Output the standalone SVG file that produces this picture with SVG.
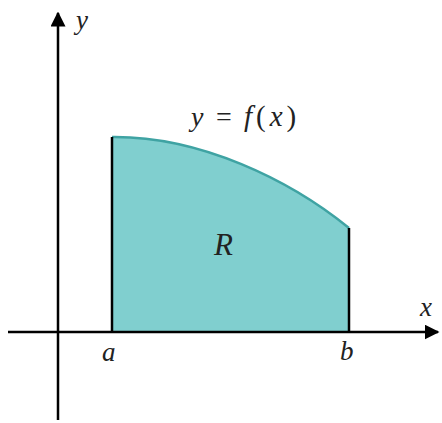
<svg xmlns="http://www.w3.org/2000/svg" width="442" height="423" viewBox="0 0 442 423">
<defs>
<style>
.ax{stroke:#000;stroke-width:2.5;fill:none}
.lbl{font-family:"Liberation Serif","Times New Roman",serif;font-style:italic;fill:#222}
.up{font-family:"Liberation Serif","Times New Roman",serif;fill:#222}
</style>
<marker id="ah" viewBox="0 0 10 10" refX="9" refY="5" markerWidth="6" markerHeight="6" markerUnits="strokeWidth" orient="auto">
<path d="M0,0 L10,5 L0,10 z" fill="#000"/>
</marker>
</defs>
<rect width="442" height="423" fill="#fff"/>
<g id="region">
<path d="M112,332 L112,137 C200,136 290,180 349,228 L349,332 Z" fill="#80cfcf"/>
<path d="M112,137 C200,136 290,180 349,228" fill="none" stroke="#3fa3a3" stroke-width="2.5"/>
<line x1="112" y1="137" x2="112" y2="332" stroke="#000" stroke-width="2.5"/>
<line x1="349" y1="228" x2="349" y2="332" stroke="#000" stroke-width="2.5"/>
</g>
<g id="axes">
<line class="ax" x1="8" y1="332" x2="438" y2="332" marker-end="url(#ah)"/>
<line class="ax" x1="58" y1="420" x2="58" y2="13" marker-end="url(#ah)"/>
</g>
<g id="labels">
<text class="lbl" x="76" y="29" font-size="27">y</text>
<text class="lbl" x="420" y="316" font-size="27">x</text>
<text class="lbl" x="102" y="361" font-size="27">a</text>
<text class="lbl" x="340" y="360" font-size="27">b</text>
<text class="lbl" x="214" y="255" font-size="31">R</text>
<text class="lbl" x="191" y="126" font-size="28">y</text>
<text class="up" x="216" y="126" font-size="28">=</text>
<text class="up" x="244" y="126" font-size="29" letter-spacing="4"><tspan font-style="italic">f</tspan>(<tspan font-style="italic">x</tspan>)</text>
</g>
</svg>
